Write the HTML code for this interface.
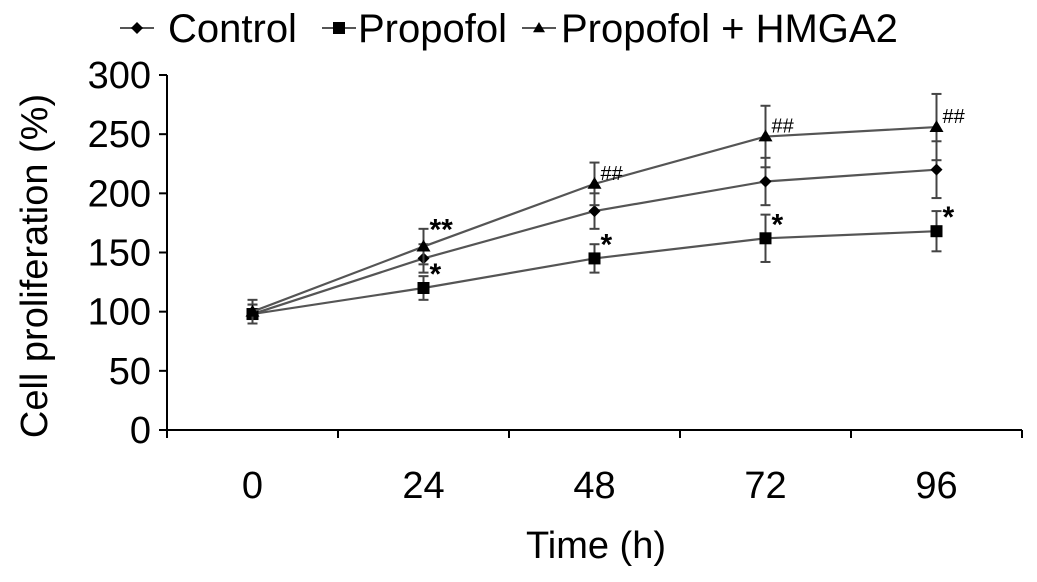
<!DOCTYPE html>
<html><head><meta charset="utf-8"><style>
body{margin:0;background:#fff;}
svg text{font-family:"Liberation Sans",Arial,sans-serif;fill:#000;}
</style></head><body>
<svg id="chart" width="1037" height="577" viewBox="0 0 1037 577" xmlns="http://www.w3.org/2000/svg">
<g id="axes"></g><g id="series"></g><g id="legend"></g>
</svg>
<script>
const categories=["0","24","48","72","96"];
const yTicks=[0,50,100,150,200,250,300];
const controlVals=[98,145,185,210,220];
const controlErr=[8,12,15,20,24];
const propofolVals=[98,120,145,162,168];
const propofolErr=[8,10,12,20,17];
const hmgaVals=[100,155,208,248,256];
const hmgaErr=[10,15,18,26,28];
const propofolMarks=["","*","*","*","*"];
const hmgaMarks=["","**","##","##","##"];

const NS="http://www.w3.org/2000/svg";
const x0=167,x1=1022,yBase=430,yTop=75;
const bw=(x1-x0)/categories.length;
function xs(i){return x0+bw*(i+0.5);}
function ys(v){return yBase-(v/300)*(yBase-yTop);}
function mk(tag,attrs,parent){const e=document.createElementNS(NS,tag);for(const k in attrs)e.setAttribute(k,attrs[k]);parent.appendChild(e);return e;}
const axes=document.getElementById('axes'),series=document.getElementById('series'),legend=document.getElementById('legend');

const ya=mk('line',{x1:x0,y1:yTop,x2:x0,y2:yBase,stroke:'#000','stroke-width':2},axes);

const xa=mk('line',{x1:x0,y1:yBase,x2:x1,y2:yBase,stroke:'#000','stroke-width':2},axes);

yTicks.forEach(v=>{
  mk('line',{x1:x0-8,y1:ys(v),x2:x0,y2:ys(v),stroke:'#000','stroke-width':2},axes);
  const t=mk('text',{x:x0-16,y:ys(v)+13,'text-anchor':'end','font-size':38},axes);
  t.textContent=v;
  
  
});
for(let i=0;i<=categories.length;i++){
  mk('line',{x1:x0+bw*i,y1:yBase,x2:x0+bw*i,y2:yBase+8,stroke:'#000','stroke-width':2},axes);
}
categories.forEach((c,i)=>{
  const t=mk('text',{x:xs(i),y:498,'text-anchor':'middle','font-size':38},axes);
  t.textContent=c;
  
  
});
const xt=mk('text',{x:596,y:558,'text-anchor':'middle','font-size':38},axes);xt.textContent='Time (h)';

const yt=mk('text',{x:0,y:0,'text-anchor':'middle','font-size':38,transform:'translate(47,266) rotate(-90)'},axes);yt.textContent='Cell proliferation (%)';


function marker(type,cx,cy,parent,s){
  if(type==='diamond')return mk('path',{d:`M${cx} ${cy-s}L${cx+s} ${cy}L${cx} ${cy+s}L${cx-s} ${cy}Z`,fill:'#000'},parent);
  if(type==='square')return mk('rect',{x:cx-s,y:cy-s,width:2*s,height:2*s,fill:'#000'},parent);
  return mk('path',{d:`M${cx} ${cy-s}L${cx+s} ${cy+s*0.7}L${cx-s} ${cy+s*0.7}Z`,fill:'#000'},parent);
}
function drawSeries(name,vals,err,type,size,marks){
  const g=mk('g',{},series);
  
  
  vals.forEach((v,i)=>{
    const cx=xs(i);
    mk('line',{x1:cx,y1:ys(v+err[i]),x2:cx,y2:ys(v-err[i]),stroke:'#444','stroke-width':2},g);
    mk('line',{x1:cx-5,y1:ys(v+err[i]),x2:cx+5,y2:ys(v+err[i]),stroke:'#444','stroke-width':2},g);
    mk('line',{x1:cx-5,y1:ys(v-err[i]),x2:cx+5,y2:ys(v-err[i]),stroke:'#444','stroke-width':2},g);
  });
  const pts=vals.map((v,i)=>xs(i)+','+ys(v)).join(' ');
  mk('polyline',{points:pts,fill:'none',stroke:'#555','stroke-width':2.2},g);
  vals.forEach((v,i)=>{
    const m=marker(type,xs(i),ys(v),g,size);
    
    
    if(marks&&marks[i]){
      const isHash=marks[i]==='##';
      const t=mk('text',{x:xs(i)+6,y:ys(v)+(isHash?-4:(marks[i]==='**'?-7:-4)),'font-size':isHash?20:30,'font-weight':'bold'},g);
      if(isHash){t.setAttribute('fill','#555');t.setAttribute('font-weight','normal');t.setAttribute('font-family','Liberation Serif, serif');}
      t.textContent=marks[i];
      
      
    }
  });
}
drawSeries('control',controlVals,controlErr,'diamond',6,null);
drawSeries('propofol',propofolVals,propofolErr,'square',6,propofolMarks);
drawSeries('propofol-hmga2',hmgaVals,hmgaErr,'triangle',7,hmgaMarks);

const items=[['Control','diamond',120,168],['Propofol','square',322,358],['Propofol + HMGA2','triangle',522,561]];
items.forEach(([label,type,lx,tx])=>{
  const g=mk('g',{},legend);
  
  
  mk('line',{x1:lx,y1:28,x2:lx+34,y2:28,stroke:'#555','stroke-width':2},g);
  marker(type,lx+17,28,g,6);
  const t=mk('text',{x:tx,y:42,'font-size':40},g);t.textContent=label;
});
</script>
</body></html>
